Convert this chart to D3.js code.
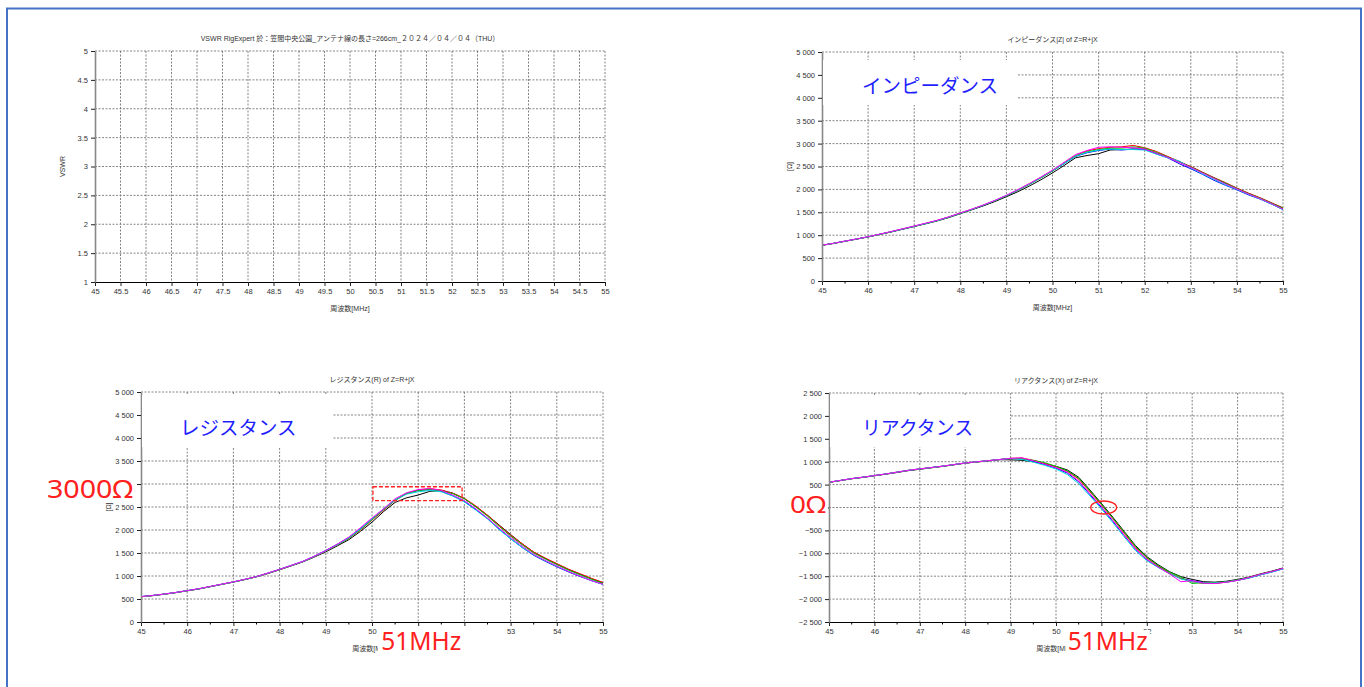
<!DOCTYPE html>
<html>
<head>
<meta charset="utf-8">
<script src="https://d3js.org/d3.v7.min.js"></script>
<style>
  body { margin:0; background:#fff; }
  text { font-family: "Liberation Sans", Arial, "Noto Sans CJK JP", sans-serif; }
</style>
</head>
<body>
<svg width="1364" height="687"></svg>
<script>
// frequency points, MHz
var freq = [45,45.25,45.5,45.75,46,46.25,46.5,46.75,47,47.25,47.5,47.75,48,48.25,48.5,48.75,49,49.25,49.5,49.75,
            50,50.25,50.5,50.75,51,51.25,51.5,51.75,52,52.25,52.5,52.75,53,53.25,53.5,53.75,54,54.25,54.5,54.75,55];

var seriesColors = ["#000000", "#0000ff", "#ff0000", "#00c800", "#00d8e0", "#ff00ff"];

// |Z|
var zBlack = [780,820,868,915,962,1018,1070,1130,1190,1250,1312,1385,1470,1555,1640,1735,1840,1950,2075,2210,2360,2520,2690,2740,2780,2860,2870,2880,2880,2790,2710,2600,2490,2370,2250,2130,2020,1910,1810,1700,1580];
var zBlue  = [782,822,870,916,965,1020,1075,1135,1195,1255,1320,1395,1480,1560,1650,1752,1862,1985,2115,2255,2405,2560,2720,2800,2850,2880,2860,2880,2870,2780,2690,2560,2450,2330,2200,2090,1990,1880,1790,1680,1560];
var zRed   = [780,821,869,916,964,1020,1076,1136,1196,1258,1322,1398,1482,1565,1655,1755,1865,1990,2125,2265,2415,2580,2740,2840,2890,2920,2930,2960,2910,2830,2720,2610,2500,2380,2260,2150,2030,1920,1820,1710,1600];
var zGreen = [781,821,868,915,963,1019,1074,1133,1192,1252,1316,1390,1476,1560,1652,1750,1858,1982,2112,2250,2400,2570,2730,2820,2870,2900,2900,2930,2900,2810,2710,2600,2490,2370,2250,2140,2020,1910,1810,1700,1590];
var zCyan  = [782,822,870,917,966,1021,1077,1136,1196,1257,1321,1396,1483,1566,1656,1756,1866,1990,2120,2260,2410,2565,2725,2810,2860,2880,2870,2870,2860,2770,2690,2620,2470,2340,2220,2100,2000,1890,1790,1680,1560];
var zMag   = [783,823,871,918,967,1023,1080,1140,1200,1262,1326,1400,1486,1570,1660,1760,1872,1995,2128,2270,2420,2590,2760,2850,2920,2930,2920,2910,2880,2790,2700,2590,2480,2360,2240,2120,2010,1900,1800,1690,1570];

// R
var rBlack = [548,573,603,638,678,718,768,818,868,922,982,1055,1135,1220,1305,1410,1525,1655,1790,1970,2170,2400,2600,2700,2760,2840,2860,2800,2680,2510,2320,2110,1900,1700,1520,1380,1260,1140,1040,940,850];
var rBlue  = [552,577,607,642,682,722,772,822,872,927,988,1065,1145,1230,1318,1430,1555,1690,1840,2030,2240,2460,2650,2790,2860,2880,2840,2740,2620,2440,2250,2020,1810,1620,1450,1320,1200,1090,990,900,820];
var rRed   = [550,575,605,640,680,720,770,820,870,925,985,1058,1138,1222,1310,1418,1538,1672,1818,2000,2215,2430,2640,2790,2870,2900,2870,2800,2690,2520,2320,2100,1890,1700,1520,1390,1270,1150,1050,950,860];
var rGreen = [549,574,604,639,679,719,769,819,869,924,984,1060,1140,1225,1310,1420,1540,1675,1820,2010,2225,2445,2650,2800,2860,2880,2850,2790,2680,2500,2300,2080,1870,1680,1500,1370,1250,1130,1030,930,840];
var rCyan  = [551,576,606,641,681,721,771,821,871,926,986,1062,1142,1227,1312,1422,1545,1680,1830,2020,2240,2455,2650,2780,2830,2860,2830,2740,2610,2430,2240,2010,1810,1620,1460,1330,1210,1100,1000,900,815];
var rMag   = [552,577,607,642,682,723,773,823,873,928,988,1064,1145,1230,1316,1428,1550,1690,1845,2050,2260,2460,2680,2810,2880,2900,2860,2760,2640,2460,2260,2040,1840,1650,1470,1340,1220,1100,1000,900,820];

// X
var xBlack = [550,588,628,658,693,727,765,805,835,866,897,932,968,993,1018,1043,1040,1030,1000,950,900,820,660,380,90,-210,-520,-830,-1070,-1250,-1400,-1510,-1570,-1620,-1630,-1610,-1570,-1520,-1450,-1390,-1320];
var xBlue  = [552,590,630,662,697,732,772,812,842,872,902,937,972,997,1022,1047,1072,1060,1010,940,860,750,560,280,0,-300,-610,-910,-1140,-1300,-1440,-1550,-1600,-1640,-1650,-1630,-1590,-1540,-1470,-1410,-1340];
var xRed   = [551,590,630,661,696,731,771,811,841,871,901,936,971,996,1021,1046,1075,1080,1030,965,890,790,620,340,60,-240,-560,-870,-1100,-1280,-1430,-1550,-1620,-1660,-1660,-1630,-1590,-1530,-1460,-1400,-1330];
var xGreen = [550,589,629,660,695,730,770,810,840,870,900,935,970,995,1020,1045,1070,1060,1030,980,900,800,640,360,70,-230,-540,-850,-1090,-1270,-1410,-1520,-1660,-1640,-1640,-1620,-1580,-1530,-1460,-1400,-1330];
var xCyan  = [553,591,631,662,697,732,772,812,842,872,902,937,972,997,1022,1047,1072,1050,990,920,840,720,520,250,-30,-330,-640,-940,-1160,-1310,-1440,-1560,-1620,-1650,-1650,-1630,-1590,-1540,-1470,-1410,-1340];
var xMag   = [552,591,631,662,697,732,772,812,842,872,902,937,972,997,1022,1047,1072,1085,1020,950,870,770,580,300,20,-280,-600,-900,-1130,-1300,-1450,-1620,-1600,-1650,-1660,-1630,-1590,-1530,-1460,-1400,-1330];

// ticks
var vswrXTicks = [45,45.5,46,46.5,47,47.5,48,48.5,49,49.5,50,50.5,51,51.5,52,52.5,53,53.5,54,54.5,55];
var vswrYTicks = [1,1.5,2,2.5,3,3.5,4,4.5,5];
var mhzTicks = [45,46,47,48,49,50,51,52,53,54,55];
var mhzMinor = [45.5,46.5,47.5,48.5,49.5,50.5,51.5,52.5,53.5,54.5];
var ohmTicks = [0,500,1000,1500,2000,2500,3000,3500,4000,4500,5000];
var reactTicks = [-2500,-2000,-1500,-1000,-500,0,500,1000,1500,2000,2500];

var xLabel = "周波数[MHz]";

var svg = d3.select("svg");
var defs = svg.append("defs");

// blue frame
svg.append("rect").attr("x", 7).attr("y", 8.5).attr("width", 1354).attr("height", 720)
  .attr("fill", "none").attr("stroke", "#4472c4").attr("stroke-width", 2);

function fmtOhm(d) { return d3.format(",")(d).replace(/,/g, " "); }

function drawPanel(p) {
  var x = d3.scaleLinear().domain([45, 55]).range([p.left, p.right]);
  var y = d3.scaleLinear().domain(p.yDomain).range([p.bottom, p.top]);
  var g = svg.append("g");

  // grid
  var grid = g.append("g").attr("stroke", "#666").attr("stroke-width", 0.8).attr("stroke-dasharray", "2,1.5");
  grid.selectAll(".v").data(p.xTicks.slice(1)).enter().append("line")
    .attr("x1", x).attr("x2", x).attr("y1", p.top).attr("y2", p.bottom);
  grid.selectAll(".h").data(p.yTicks.slice(1)).enter().append("line")
    .attr("x1", p.left).attr("x2", p.right).attr("y1", y).attr("y2", y);

  // series
  var line = d3.line().x(function(d, i) { return x(freq[i]); }).y(function(d) { return y(d); });
  g.selectAll(".s").data(p.series).enter().append("path")
    .attr("d", line).attr("fill", "none")
    .attr("stroke", function(d, i) { return seriesColors[i]; })
    .attr("stroke-width", 1);

  // axes
  var xa = g.append("g").attr("transform", "translate(0," + p.bottom + ")")
    .call(d3.axisBottom(x).tickValues(p.xTicks).tickSize(4).tickSizeOuter(0).tickPadding(3)
      .tickFormat(function(d) { return d; }));
  if (p.minor) {
    xa.selectAll(".minor").data(p.minor).enter().append("line")
      .attr("x1", x).attr("x2", x).attr("y1", 0).attr("y2", 2.5).attr("stroke", "#000");
  }
  var ya = g.append("g").attr("transform", "translate(" + p.left + ",0)")
    .call(d3.axisLeft(y).tickValues(p.yTicks).tickSize(4).tickSizeOuter(0).tickPadding(3).tickFormat(p.fmt));
  [xa, ya].forEach(function(a) {
    a.selectAll("text").attr("font-size", 7.5).attr("fill", "#333");
    a.selectAll(".tick line").attr("stroke", "#222");
  });
  xa.select(".domain").attr("stroke", "#000");
  ya.select(".domain").attr("stroke", "#888").attr("stroke-width", 1.6);

  // tick labels that sit under the red notes
  var hx = p.hideX || [], hy = p.hideY || [];
  xa.selectAll(".tick text").filter(function(d) { return hx.indexOf(d) >= 0; }).remove();
  ya.selectAll(".tick text").filter(function(d) { return hy.indexOf(d) >= 0; }).remove();

  // titles
  var cx = (p.left + p.right) / 2;
  g.append("text").attr("x", cx).attr("y", p.top - 10).attr("text-anchor", "middle")
    .attr("font-size", 7).attr("fill", "#333").text(p.title);
  var xl = g.append("text").attr("x", cx).attr("y", p.bottom + 29).attr("text-anchor", "middle")
    .attr("font-size", 7).attr("fill", "#333").text(xLabel);
  if (p.cutLabel) {
    var id = "cut" + p.left;
    defs.append("clipPath").attr("id", id).append("rect")
      .attr("x", 0).attr("y", 0).attr("width", p.cutLabel).attr("height", 687);
    xl.attr("clip-path", "url(#" + id + ")");
  }
  if (p.yLabel) {
    g.append("text").attr("transform", "translate(" + (p.left - 30) + "," + ((p.top + p.bottom) / 2) + ") rotate(-90)")
      .attr("text-anchor", "middle").attr("font-size", 7).attr("fill", "#333").text(p.yLabel);
  }

  p.x = x; p.y = y; p.g = g;
  return p;
}

function whiteBox(g, x0, y0, x1, y1) {
  g.append("rect").attr("x", x0).attr("y", y0).attr("width", x1 - x0).attr("height", y1 - y0).attr("fill", "#fff");
}

function bigText(g, str, x, y, color, size, anchor, len) {
  var t = g.append("text").attr("x", x).attr("y", y).attr("fill", color)
    .attr("font-size", size).attr("text-anchor", anchor || "start")
    .style("font-family", '"Noto Sans", "Noto Sans CJK JP", sans-serif').text(str);
  if (len) t.attr("textLength", len).attr("lengthAdjust", "spacingAndGlyphs");
  return t;
}

// red note on a white patch that hides what is under it
function redNote(g, str, x, y, size, anchor, len) {
  var t = bigText(g, str, x, y, "#ff2020", size, anchor, len);
  var b = t.node().getBBox();
  g.insert("rect", function() { return t.node(); })
    .attr("x", b.x - 2).attr("y", y - size * 0.8).attr("width", b.width + 4).attr("height", size * 0.95)
    .attr("fill", "#fff");
}

var pV = drawPanel({
  title: "VSWR RigExpert 於：笠間中央公園_アンテナ線の長さ=266cm_２０２４／０４／０４（THU）",
  left: 95, right: 605, top: 51, bottom: 282, yDomain: [1, 5],
  xTicks: vswrXTicks, yTicks: vswrYTicks, minor: null, yLabel: "VSWR",
  fmt: function(d) { return d; }, series: []
});

var pZ = drawPanel({
  title: "インピーダンス|Z| of Z=R+jX",
  left: 822, right: 1283, top: 52, bottom: 281, yDomain: [0, 5000],
  xTicks: mhzTicks, yTicks: ohmTicks, minor: mhzMinor, yLabel: "[Ω]", fmt: fmtOhm,
  series: [zBlack, zBlue, zRed, zGreen, zCyan, zMag]
});

var pR = drawPanel({
  title: "レジスタンス(R) of Z=R+jX",
  left: 141, right: 603, top: 392, bottom: 622, yDomain: [0, 5000],
  xTicks: mhzTicks, yTicks: ohmTicks, minor: mhzMinor, yLabel: "[Ω]", fmt: fmtOhm,
  hideX: [51, 52], hideY: [3000], cutLabel: 378,
  series: [rBlack, rBlue, rRed, rGreen, rCyan, rMag]
});

var pX = drawPanel({
  title: "リアクタンス(X) of Z=R+jX",
  left: 829, right: 1283, top: 393, bottom: 622, yDomain: [-2500, 2500],
  xTicks: mhzTicks, yTicks: reactTicks, minor: mhzMinor, yLabel: null, fmt: fmtOhm,
  hideX: [51], hideY: [0], cutLabel: 1066,
  series: [xBlack, xBlue, xRed, xGreen, xCyan, xMag]
});

// annotations
var ann = svg.append("g");
whiteBox(ann, pZ.left + 1, pZ.top + 8, pZ.left + 196, pZ.top + 53);
bigText(ann, "インピーダンス", pZ.left + 40, pZ.top + 41, "#1f1fff", 19.5);

whiteBox(ann, pR.left + 1, pR.top + 3, pR.left + 192, pR.top + 55);
bigText(ann, "レジスタンス", pR.left + 39, pR.top + 43, "#1f1fff", 19.5);

whiteBox(ann, pX.left + 1, pX.top + 2, pX.left + 181, pX.top + 54);
bigText(ann, "リアクタンス", pX.left + 33, pX.top + 42, "#1f1fff", 19.5, "start", 111);

// R panel: peak box, 3000Ω, 51MHz
ann.append("rect")
  .attr("x", pR.x(50.02)).attr("y", pR.y(2940))
  .attr("width", pR.x(51.95) - pR.x(50.02)).attr("height", pR.y(2640) - pR.y(2940))
  .attr("fill", "none").attr("stroke", "#ff2020").attr("stroke-width", 1.3).attr("stroke-dasharray", "4,2");
redNote(ann, "3000Ω", pR.left - 8, pR.y(3000) + 14, 25, "end", 86);
redNote(ann, "51MHz", pR.x(50.2), pR.bottom + 28, 25, "start", 80);

// X panel: zero crossing, 0Ω, 51MHz
ann.append("ellipse").attr("cx", pX.x(51.05)).attr("cy", pX.y(0)).attr("rx", 13).attr("ry", 6.5)
  .attr("fill", "none").attr("stroke", "#ff2020").attr("stroke-width", 1.3);
redNote(ann, "0Ω", pX.left - 3, pX.y(0) + 5, 24, "end", 36);
redNote(ann, "51MHz", pX.x(50.26), pX.bottom + 28, 25, "start", 80);
</script>
</body>
</html>
